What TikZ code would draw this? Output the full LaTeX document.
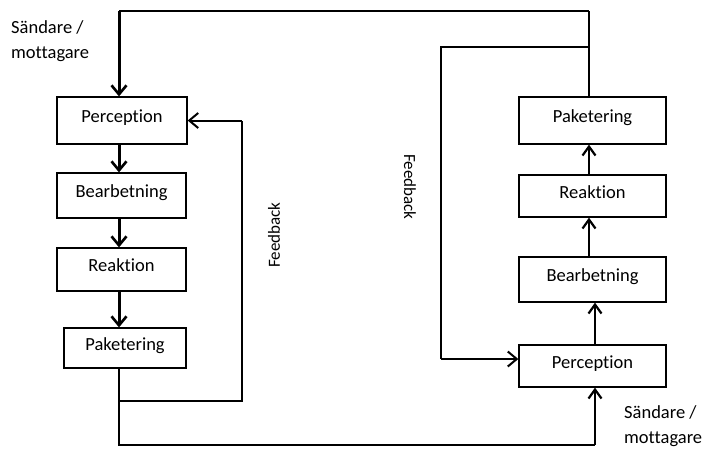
\documentclass[tikz,border=0pt]{standalone}
\usepackage{fontspec}
\setmainfont{Carlito}[Ligatures={NoCommon,NoRequired,NoContextual}]
\usetikzlibrary{arrows.meta,calc}
\begin{document}
\begin{tikzpicture}[x=1pt,y=-1pt,
  box/.style={draw,line width=1.3pt,inner sep=0pt,text height=12pt,text depth=8pt,font=\fontsize{18.5}{22}\selectfont},
  lbl/.style={inner sep=0pt,align=left,font=\fontsize{18.5}{25}\selectfont},
  thin/.style={line width=1.5pt},
  bigarr/.style={line width=3pt,-{Straight Barb[length=9pt,width=15pt,line width=2.6pt]}},
  medarr/.style={line width=2.5pt,-{Straight Barb[length=9pt,width=13pt,line width=2.2pt]}},
  fbarr/.style={line width=2pt,-{Straight Barb[length=9pt,width=15pt,line width=2pt]}}]
\useasboundingbox (0,0) rectangle (707,448);
% left column
\node[box,minimum width=130pt,minimum height=47pt] (LP) at (122,120.5) {Perception};
\node[box,minimum width=129pt,minimum height=45pt] (LB) at (121.5,195.5) {Bearbetning};
\node[box,minimum width=129pt,minimum height=43pt] (LR) at (121.5,269.5) {Reaktion};
\node[box,minimum width=122pt,minimum height=40pt] (LK) at (125,348) {Paketering};
% right column
\node[box,minimum width=147pt,minimum height=47pt] (RK) at (592.5,120.5) {Paketering};
\node[box,minimum width=147pt,minimum height=42pt] (RR) at (592.5,196) {Reaktion};
\node[box,minimum width=147pt,minimum height=45pt] (RB) at (592.5,279.5) {Bearbetning};
\node[box,minimum width=147pt,minimum height=42pt] (RP) at (592.5,366) {Perception};
% labels
\node[lbl,anchor=north west] (s1) at (11,20) {Sändare /\\mottagare};
\node[lbl,anchor=north west] (s2) at (624,405) {Sändare /\\mottagare};
\node[inner sep=0pt,rotate=90,font=\fontsize{17}{20}\selectfont] (f1) at (274,235) {Feedback};
\node[inner sep=0pt,rotate=-90,font=\fontsize{17}{20}\selectfont] (f2) at (410,187) {Feedback};
% coordinates
\coordinate (lx) at (119,0);
\coordinate (top) at (589,11);
\coordinate (bot) at (595,445);
\coordinate (lfb) at (242,401);
\coordinate (rfb) at (441,47);
% top line into left Perception
\draw[thin] (top) -- (lx |- top);
\draw[bigarr] (lx |- top) -- (lx |- LP.north);
% left chain
\draw[bigarr] (lx |- LP.south) -- (lx |- LB.north);
\draw[bigarr] (lx |- LB.south) -- (lx |- LR.north);
\draw[bigarr] (lx |- LR.south) -- (lx |- LK.north);
% left feedback
\draw[thin] (lx |- LK.south) -- (lx |- lfb) -- (lfb) -- (lfb |- LP.east);
\draw[fbarr] (lfb |- LP.east) -- (LP.east);
% bottom line to right Perception
\draw[thin] (lx |- lfb) -- (lx |- bot) -- (bot);
\draw[medarr] (bot) -- (bot |- RP.south);
% right chain
\draw[medarr] (bot |- RP.north) -- (bot |- RB.south);
\draw[medarr] (top |- RB.north) -- (top |- RR.south);
\draw[medarr] (top |- RR.north) -- (top |- RK.south);
% right feedback
\draw[thin] (top |- RK.north) -- (top);
\draw[thin] (top |- rfb) -- (rfb) -- (rfb |- 0,359);
\draw[fbarr] (rfb |- 0,359) -- (RP.west |- 0,359);
\end{tikzpicture}
\end{document}
